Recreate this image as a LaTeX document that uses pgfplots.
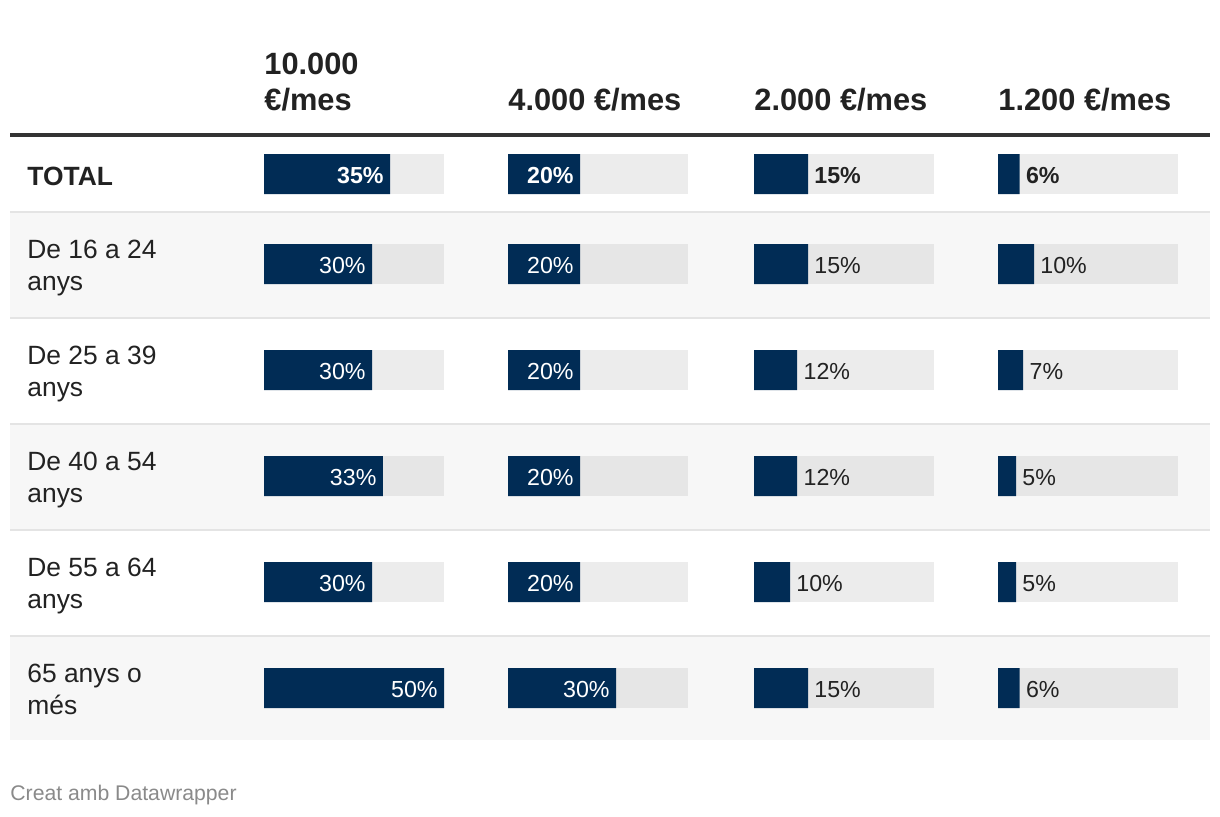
\documentclass[border=0pt]{standalone}
\usepackage{pgfplots}
\pgfplotsset{compat=1.18}
\usepackage{fontspec}
\setmainfont{Liberation Sans}
\definecolor{navy}{RGB}{1,44,85}
\definecolor{txt}{HTML}{222222}
\definecolor{rowshade}{HTML}{F7F7F7}
\definecolor{sep}{HTML}{E4E4E4}
\definecolor{trackA}{HTML}{ECECEC}
\definecolor{trackB}{HTML}{E6E6E6}
\definecolor{foot}{HTML}{8A8A8A}
\definecolor{rule}{HTML}{333333}
\newcommand\bodyfont{\fontsize{13.2}{15}\selectfont}
\newcommand\headfont{\fontsize{15.4}{18}\selectfont\bfseries}
\newcommand\valfont{\fontsize{11.6}{13}\selectfont}
\pgfplotsset{
  cellbar/.style={
    width=90pt, height=408pt, scale only axis,
    xmin=0, xmax=50, ymin=0, ymax=816, y dir=reverse,
    hide axis, clip=false, xbar, bar width=20pt, bar shift=0pt,
    point meta=x,
    /pgf/number format/assume math mode=true,
    nodes near coords={\pgfmathprintnumber{\pgfplotspointmeta}\%},
    nodes near coords style={inner sep=0pt},
    coordinate style/.condition={x<20}{anchor=west, xshift=3pt, yshift=-0.6pt, text=txt},
    coordinate style/.condition={x>=20}{anchor=east, xshift=-3pt, yshift=-0.6pt, text=white},
    coordinate style/.condition={y>=200}{font=\valfont},
    coordinate style/.condition={y<200}{font=\valfont\bfseries},
  }
}
\begin{document}
\begin{tikzpicture}
\fill[white] (0pt,0pt) rectangle (610pt,-408pt);
\path[use as bounding box] (0pt,0pt) rectangle (610pt,-408pt);
\begin{scope}[x=0.5pt,y=-0.5pt]
  % shaded rows
  \foreach \a/\b in {213/317, 425/529, 637/740}
    \fill[rowshade] (10,\a) rectangle (1210,\b);
  % separators
  \foreach \yy in {212,318,424,530,636}
    \draw[sep, line width=1pt] (10,\yy) -- (1210,\yy);
  \draw[rule, line width=2pt] (10,135) -- (1210,135);
  % tracks
  \foreach \c in {264,508,754,998} {
    \foreach \r/\col in {174/trackA, 264/trackB, 370/trackA, 476/trackB, 582/trackA, 688/trackB}
      \fill[\col] (\c,\r-20) rectangle (\c+180,\r+20);
  }
  % headers
  \begin{scope}[every node/.style={anchor=base west, inner sep=0pt, text=txt, font=\headfont}]
    \node at (264,74) {10.000};
    \node at (264,110) {€/mes};
    \node at (508,110) {4.000 €/mes};
    \node at (754,110) {2.000 €/mes};
    \node at (998,110) {1.200 €/mes};
  \end{scope}
  % row labels
  \begin{scope}[every node/.style={anchor=base west, inner sep=0pt, text=txt, font=\bodyfont}]
    \node[font=\bodyfont\bfseries] at (27,185) {TOTAL};
    \node at (27,258) {De 16 a 24};
    \node at (27,290) {anys};
    \node at (27,364) {De 25 a 39};
    \node at (27,396) {anys};
    \node at (27,470) {De 40 a 54};
    \node at (27,502) {anys};
    \node at (27,576) {De 55 a 64};
    \node at (27,608) {anys};
    \node at (27,682) {65 anys o};
    \node at (27,714) {més};
  \end{scope}
  \node[anchor=base west, inner sep=0pt, text=foot, font=\fontsize{10.6}{12}\selectfont] at (10,800) {Creat amb Datawrapper};
\end{scope}

\begin{axis}[cellbar, at={(132pt,0pt)}, anchor=north west]
  \addplot[fill=navy, draw=none] coordinates {(35,174) (30,264) (30,370) (33,476) (30,582) (50,688)};
\end{axis}
\begin{axis}[cellbar, at={(254pt,0pt)}, anchor=north west]
  \addplot[fill=navy, draw=none] coordinates {(20,174) (20,264) (20,370) (20,476) (20,582) (30,688)};
\end{axis}
\begin{axis}[cellbar, at={(377pt,0pt)}, anchor=north west]
  \addplot[fill=navy, draw=none] coordinates {(15,174) (15,264) (12,370) (12,476) (10,582) (15,688)};
\end{axis}
\begin{axis}[cellbar, at={(499pt,0pt)}, anchor=north west]
  \addplot[fill=navy, draw=none] coordinates {(6,174) (10,264) (7,370) (5,476) (5,582) (6,688)};
\end{axis}
\end{tikzpicture}
\end{document}
